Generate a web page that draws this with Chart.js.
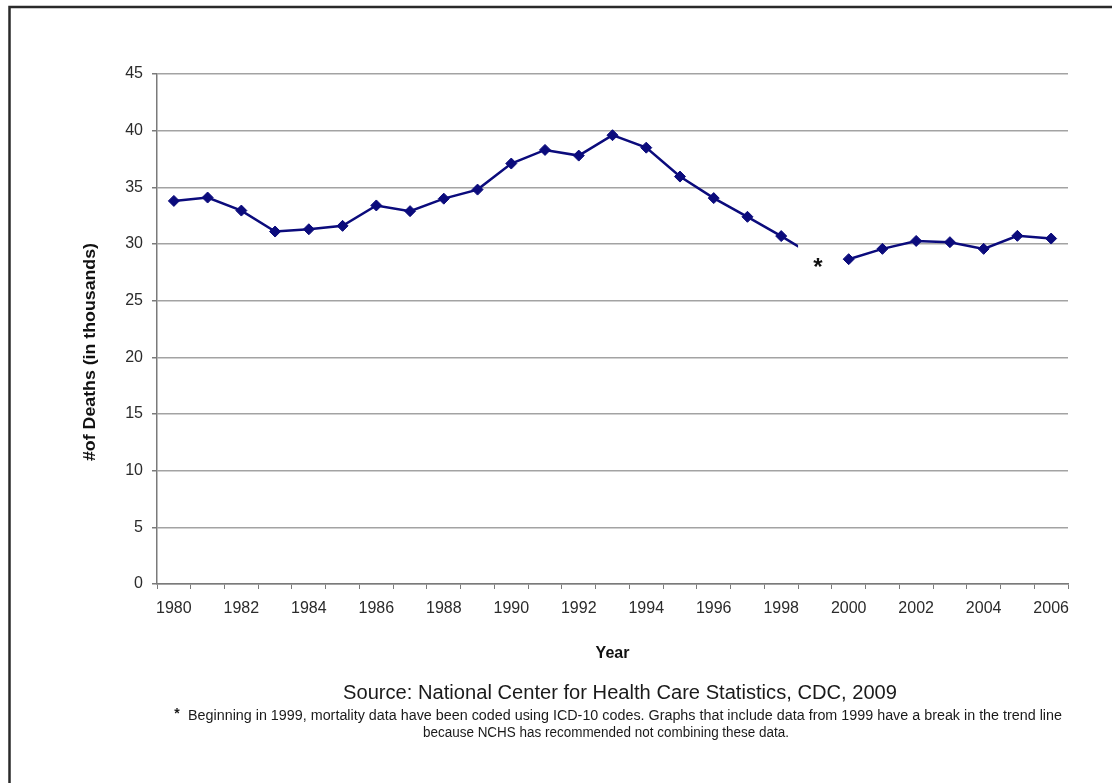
<!DOCTYPE html>
<html>
<head>
<meta charset="utf-8">
<title>Firearm deaths, 1980–2006</title>
<script src="https://cdn.jsdelivr.net/npm/chart.js@4/dist/chart.umd.min.js"></script>
<style>
  html, body { margin: 0; padding: 0; background: #ffffff; }
  #wrap { width: 1120px; height: 783px; position: relative; }
  canvas { display: block; }
</style>
</head>
<body>
<div id="wrap"><canvas id="chart" width="1120" height="783"></canvas></div>
<script>
// Years on the category axis
const years = ['1980','1981','1982','1983','1984','1985','1986','1987','1988','1989',
               '1990','1991','1992','1993','1994','1995','1996','1997','1998','1999',
               '2000','2001','2002','2003','2004','2005','2006'];

// Deaths (thousands), ICD-9 coding period; the line runs toward 1999 and is cut at the break
const deathsIcd9 = [33.8, 34.1, 32.95, 31.1, 31.3, 31.6, 33.4, 32.9, 34.0, 34.8,
                    37.1, 38.3, 37.8, 39.6, 38.5, 35.95, 34.05, 32.4, 30.7, 28.9,
                    null, null, null, null, null, null, null];

// Deaths (thousands), ICD-10 coding period
const deathsIcd10 = [null, null, null, null, null, null, null, null, null, null,
                     null, null, null, null, null, null, null, null, null, null,
                     28.66, 29.57, 30.27, 30.16, 29.57, 30.72, 30.48];

// y-axis ticks
const yTicks = [0, 5, 10, 15, 20, 25, 30, 35, 40, 45];

const BREAK_YEAR = '1999';
const NAVY = '#0b0b7c';
const GRID = '#a3a3a3';
const TEXT = '#2b2b2b';
const FONT = '"Liberation Sans", Arial, Helvetica, sans-serif';

// Hides the half-interval on either side of the break year so the trend line stops short,
// and marks the break with an asterisk.
const trendBreak = {
  id: 'trendBreak',
  beforeDatasetDraw(chart, args) {
    if (args.index !== 0) return;
    const xs = chart.scales.x;
    const i = years.indexOf(BREAK_YEAR);
    const cx = xs.getPixelForValue(i);
    const half = (cx - xs.getPixelForValue(i - 1)) / 2;
    const ctx = chart.ctx;
    ctx.save();
    ctx.beginPath();
    ctx.rect(0, 0, chart.width, chart.height);
    ctx.rect(cx - half, 0, half * 2, chart.height);
    ctx.clip('evenodd');
  },
  afterDatasetDraw(chart, args) {
    if (args.index !== 0) return;
    chart.ctx.restore();
  },
  afterDatasetsDraw(chart) {
    const xs = chart.scales.x, ys = chart.scales.y;
    const i = years.indexOf(BREAK_YEAR);
    const ctx = chart.ctx;
    ctx.save();
    ctx.fillStyle = '#111111';
    ctx.font = 'bold 24px ' + FONT;
    ctx.textAlign = 'center';
    ctx.textBaseline = 'alphabetic';
    ctx.fillText('*', xs.getPixelForValue(i) + 3, ys.getPixelForValue(deathsIcd9[i]) + 19);
    ctx.restore();
  }
};

// Draws text horizontally fitted to a given width, centred on cx
function fittedText(ctx, text, cx, y, width) {
  const w = ctx.measureText(text).width;
  ctx.save();
  ctx.translate(cx, y);
  ctx.scale(width / w, 1);
  ctx.textAlign = 'center';
  ctx.fillText(text, 0, 0);
  ctx.restore();
}

// Outer frame, y-axis title, source line and footnote
const page = {
  id: 'page',
  beforeDraw(chart) {
    const ctx = chart.ctx;
    ctx.save();
    ctx.fillStyle = '#ffffff';
    ctx.fillRect(0, 0, chart.width, chart.height);
    ctx.strokeStyle = '#2a2a2a';
    ctx.lineWidth = 2.5;
    ctx.beginPath();
    ctx.moveTo(9.5, chart.height + 5);
    ctx.lineTo(9.5, 7);
    ctx.lineTo(1112, 7);
    ctx.stroke();
    ctx.restore();
  },
  afterDraw(chart) {
    const ctx = chart.ctx;
    ctx.save();
    ctx.fillStyle = '#111111';
    ctx.font = 'bold 17px ' + FONT;
    ctx.textBaseline = 'middle';
    ctx.save();
    ctx.translate(90, 352);
    ctx.rotate(-Math.PI / 2);
    fittedText(ctx, '#of Deaths (in thousands)', 0, 0, 218);
    ctx.restore();

    ctx.fillStyle = '#1a1a1a';
    ctx.textBaseline = 'alphabetic';
    ctx.font = '20px ' + FONT;
    fittedText(ctx, 'Source: National Center for Health Care Statistics, CDC, 2009', 620, 699, 554);
    ctx.font = '14px ' + FONT;
    fittedText(ctx, 'Beginning in 1999, mortality data have been coded using ICD-10 codes. Graphs that include data from 1999 have a break in the trend line', 625, 720, 874);
    fittedText(ctx, 'because NCHS has recommended not combining these data.', 606, 737, 366);
    ctx.font = 'bold 14px ' + FONT;
    ctx.textAlign = 'center';
    ctx.fillText('*', 177, 718);
    ctx.restore();
  }
};

new Chart(document.getElementById('chart'), {
  type: 'line',
  data: {
    labels: years,
    datasets: [
      {
        label: 'ICD-9',
        data: deathsIcd9,
        borderColor: NAVY,
        backgroundColor: NAVY,
        borderWidth: 2.5,
        pointStyle: 'rectRot',
        pointRadius: ctx => years[ctx.dataIndex] === BREAK_YEAR ? 0 : 5.5,
        pointBorderWidth: 1,
        tension: 0,
        spanGaps: false
      },
      {
        label: 'ICD-10',
        data: deathsIcd10,
        borderColor: NAVY,
        backgroundColor: NAVY,
        borderWidth: 2.5,
        pointStyle: 'rectRot',
        pointRadius: 5.5,
        pointBorderWidth: 1,
        tension: 0,
        spanGaps: false
      }
    ]
  },
  options: {
    responsive: false,
    devicePixelRatio: 1,
    animation: false,
    layout: { padding: { left: 0, top: 74, right: 52, bottom: 114 } },
    plugins: {
      legend: { display: false },
      tooltip: { enabled: false }
    },
    scales: {
      x: {
        type: 'category',
        offset: true,
        afterFit: s => { s.height = 85; },
        grid: {
          offset: true,
          drawOnChartArea: false,
          drawTicks: true,
          tickLength: 5,
          color: '#7a7a7a',
          lineWidth: 1
        },
        border: { color: '#7a7a7a', width: 1.5 },
        ticks: {
          autoSkip: false,
          maxRotation: 0,
          padding: 10,
          color: TEXT,
          font: { family: FONT, size: 16 },
          callback: (v, i) => (Number(years[i]) % 2 === 0 ? years[i] : '')
        },
        title: {
          display: true,
          text: 'Year',
          color: '#111111',
          font: { family: FONT, size: 16, weight: 'bold' },
          padding: { top: 0, bottom: 6 }
        }
      },
      y: {
        min: yTicks[0],
        max: yTicks[yTicks.length - 1],
        afterFit: s => { s.width = 157; },
        afterBuildTicks: s => { s.ticks = yTicks.map(v => ({ value: v })); },
        grid: {
          color: GRID,
          lineWidth: 1.5,
          tickLength: 5,
          tickColor: '#7a7a7a'
        },
        border: { color: '#7a7a7a', width: 1.5 },
        ticks: {
          padding: 9,
          color: TEXT,
          font: { family: FONT, size: 16 }
        },
        title: { display: false }
      }
    }
  },
  plugins: [page, trendBreak]
});
</script>
</body>
</html>
